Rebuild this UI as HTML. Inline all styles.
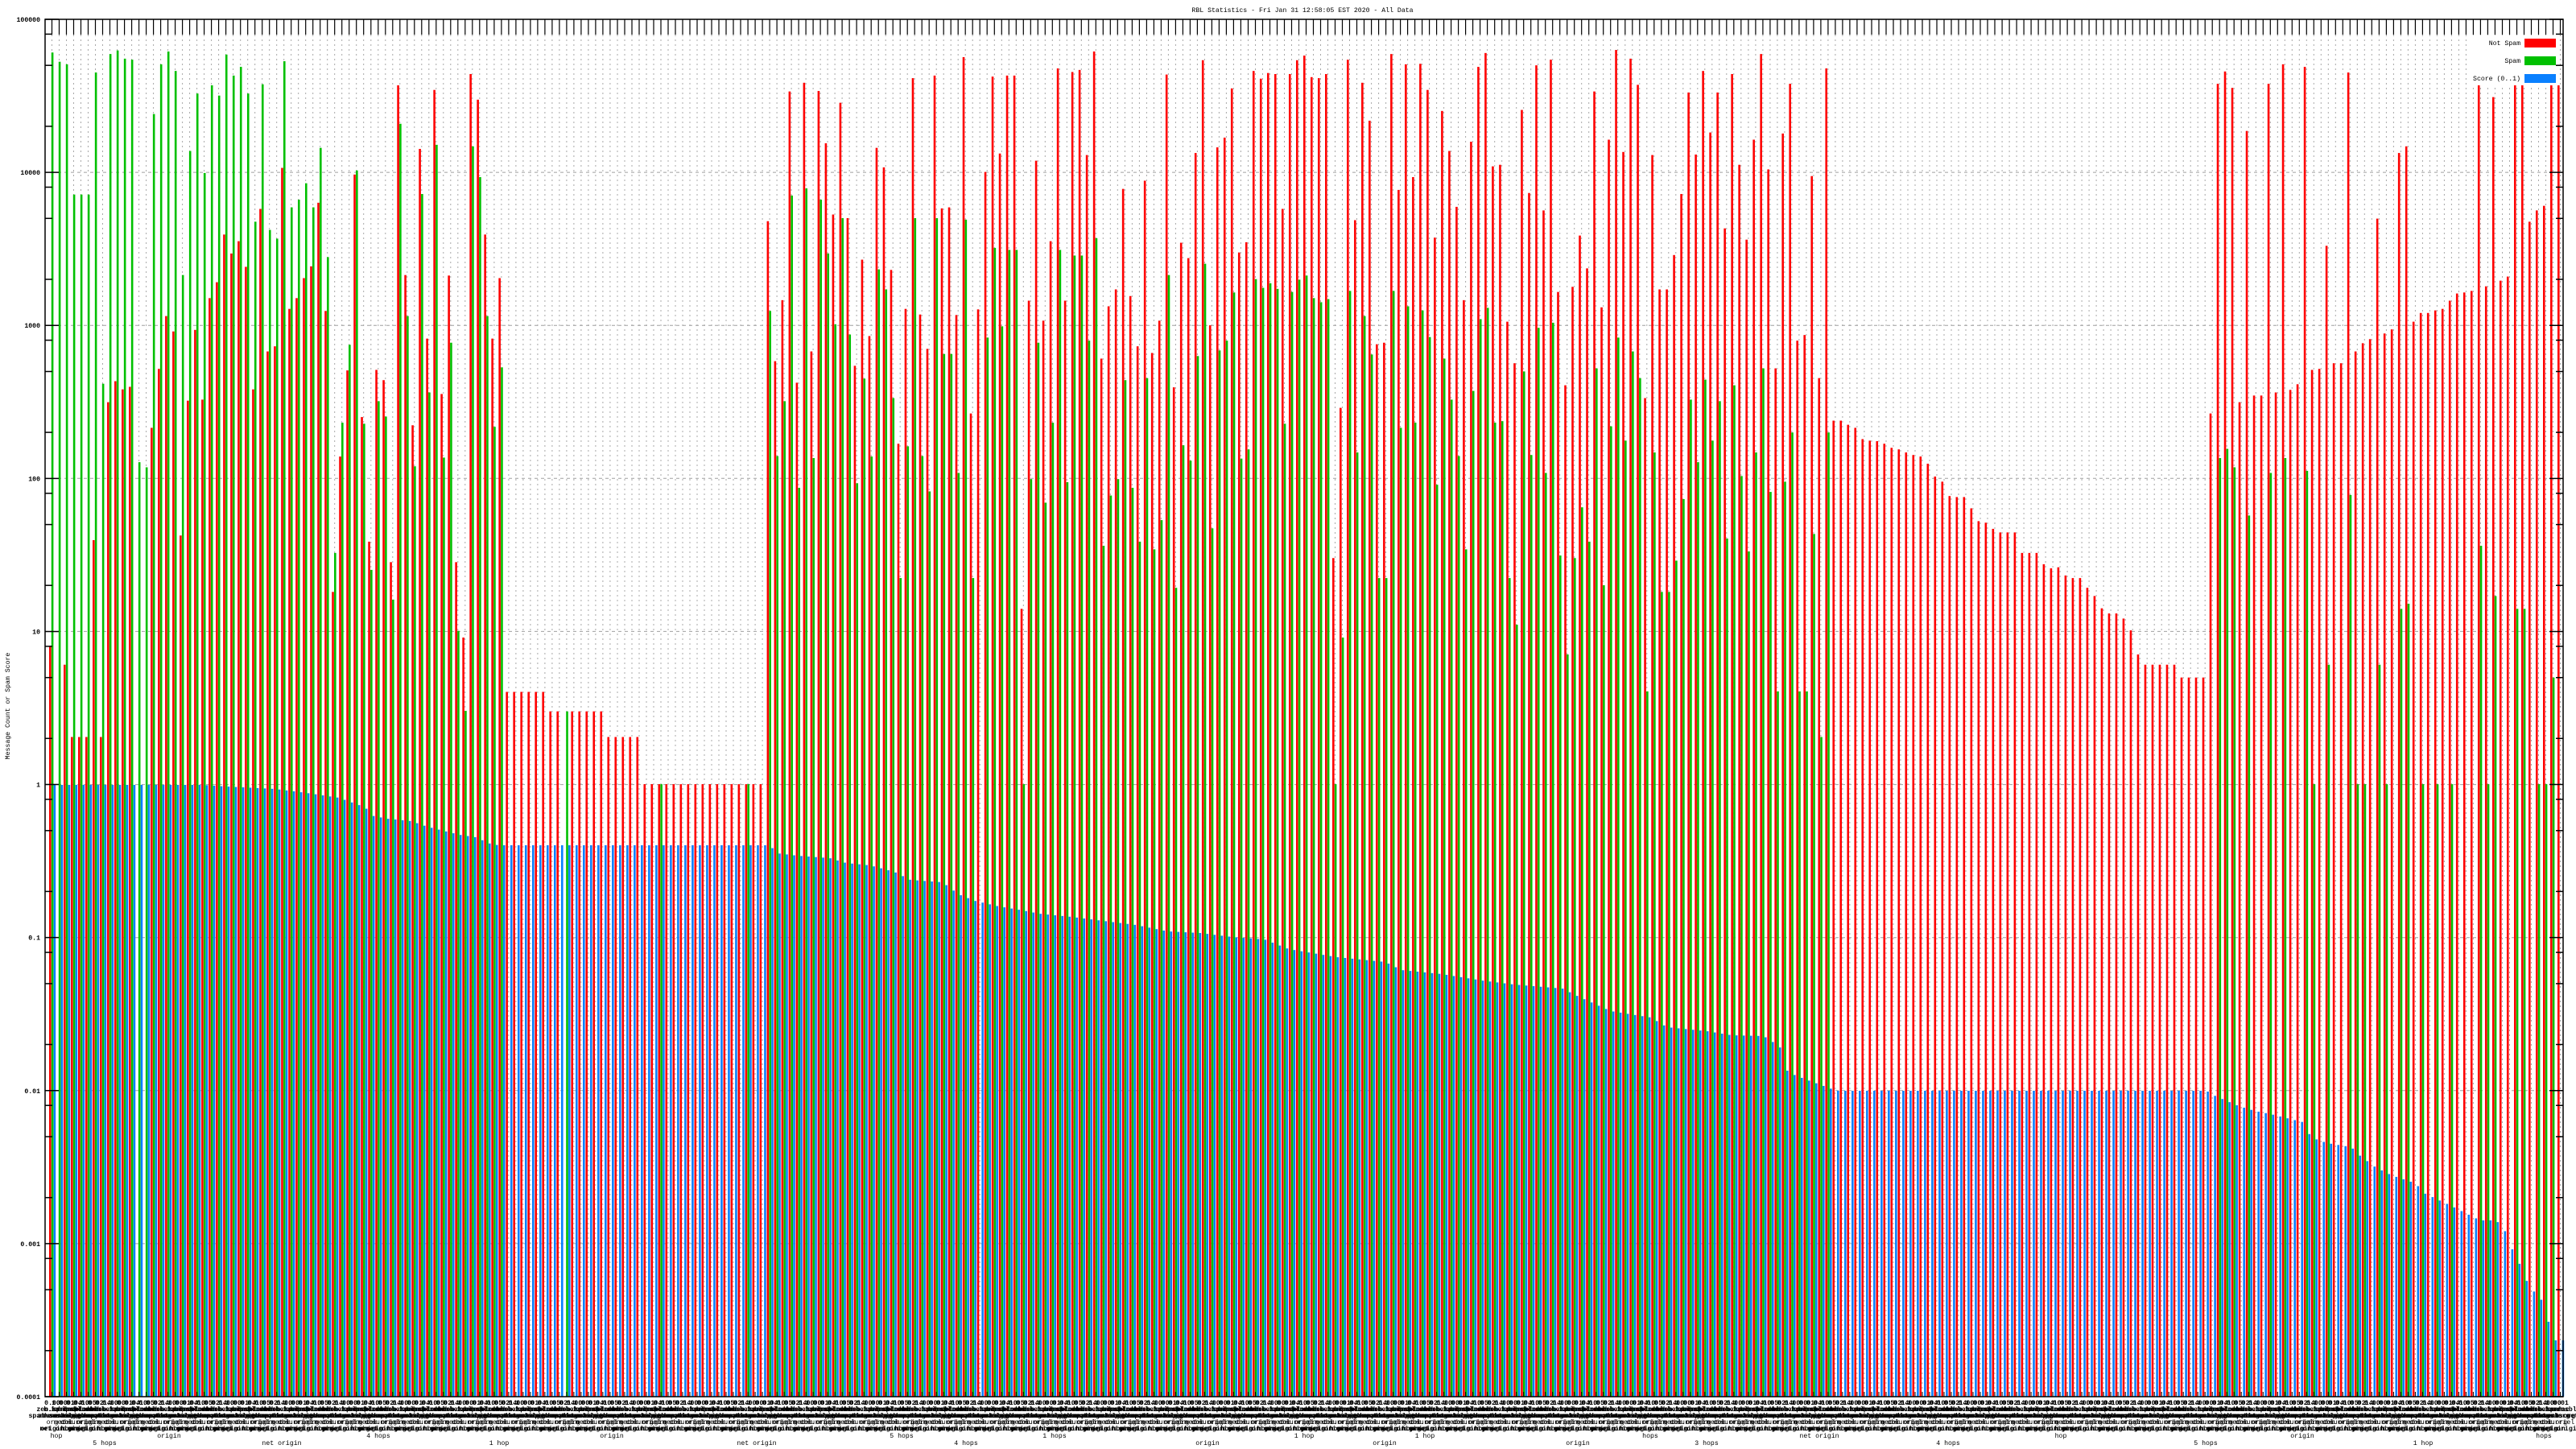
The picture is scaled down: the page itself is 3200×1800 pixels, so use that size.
<!DOCTYPE html>
<html><head><meta charset="utf-8">
<style>
html,body{margin:0;padding:0;background:#fff;}
svg{display:block;}
text{font-family:"Liberation Mono","DejaVu Sans Mono",monospace;font-size:8.2px;fill:#000;}
</style></head>
<body>
<svg id="c" xmlns="http://www.w3.org/2000/svg" width="3200" height="1800" viewBox="0 0 3200 1800"></svg>
<script>
(function(){
var S=document.getElementById('c');var NS='http://www.w3.org/2000/svg';
var out=[];
function r(x,y,w,h,f){out.push('<rect x="'+x.toFixed(2)+'" y="'+y.toFixed(2)+'" width="'+w+'" height="'+h.toFixed(2)+'" fill="'+f+'"/>');}
function ln(x1,y1,x2,y2,st,extra){out.push('<line x1="'+x1+'" y1="'+y1+'" x2="'+x2+'" y2="'+y2+'" stroke="'+st+'" '+(extra||'')+'/>');}
function tx(x,y,s,anchor,extra){out.push('<text x="'+x+'" y="'+y+'" text-anchor="'+(anchor||'start')+'" '+(extra||'')+'>'+s+'</text>');}
var L=56,R=3184,T=24,B=1735,DEC=(B-T)/9;
function yv(lg){return T+(5-lg)*DEC;}
var n=null;
var R4=[1228,n,1265,1406,1406,1406,1022,1406,753,712,728,723,n,n,803,688,585,615,1013,750,612,748,550,519,426,463,439,489,728,376,654,644,296,571,550,511,488,364,575,1123,859,691,309,782,1025,690,710,1065,135,505,798,259,629,144,737,506,1065,1212,113,163,426,629,511];
for(var i=0;i<6;i++)R4.push(1318);R4.push(1356,1356,n);for(i=0;i<5;i++)R4.push(1356);for(i=0;i<5;i++)R4.push(1406);for(i=0;i<17;i++)R4.push(1498);
var G4=[71,89,94,348,348,348,110,717,74,67,83,85,870,880,191,94,69,107,505,263,151,306,135,155,75,116,99,151,401,133,417,434,88,373,358,326,373,257,470,1047,793,641,301,795,1080,751,781,1138,210,585,878,347,734,251,861,637,1199,1355,254,314,585,801,685];
while(G4.length<99)G4.push(n);G4[71]=1356;G4[84]=1498;G4[96]=1498;
var R5=[400,673,554,147,715,130,654,146,248,387,169,394,682,475,624,257,295,495,834,571,121,582,649,116,375,373,583,80,775,572,304,118,268,116,116,1156,555,282,594,439,102,555,109,105,271,69,668,566,533,337,546,644,321,657,594,114,724,442,472,267,86,603,256,237,141,461,441,107,122,111,113,376,113,86,77,119,121,113,1057,764,85,398,130,204,640,637,74,339,94,314,93,144,432,185,263,372,554,245,99];
var G5=[575,858,751,350,920,336,862,358,463,601,394,621,911,707,859,494,533,745,1096,839,394,858,927,394,659,659,891,397,1096,n,627,452,605,456,456,1498,903,637,949,793,456,909,467,467,633,433,1033,935,903,710,920,1025,706,1040,983,505,1115,837,867,663,483,999,652,633,539,863,845,513,530,521,532,795,538,514,506,550,558,552,1498,1212,536,851,585,660,1096,1096,536,803,566,793,574,626,914,668,748,858,1040,731,591];
var R6=[72,293,290,596,677,183,345,96,379,85,538,720,528,428,492,147,568,241,66,265,83,134,745,271,533,533,466,347,149,270,107,227,149,414,113,290,436,241,74,299,687,229,132,633,622,312,706,102,789,789,797,803,825,828,829,834,842,845,851,856,859,873,898,908,936,938,938,960,985,988,1000,1007,1007,1007,1047,1047,1047,1069,1077,1075,1091,1096,1096,1115,1131,1155,1165,1165,1175,1198,1245,1265,1265,1265,1265,1265,1290,1290,1290,1290];
var G6=[569,793,790,1096,1187,693,856,608,891,598,1052,1245,1057,958,1025,687,1110,800,627,828,654,706,1317,851,1123,1123,1062,942,748,870,709,828,751,1019,720,897,1044,851,687,928,1317,908,812,1317,1317,1010,1406,812];
while(G6.length<100)G6.push(n);
var R7=[775,132,108,140,753,224,740,740,132,734,94,729,718,99,690,688,448,677,677,110,654,638,630,395,619,611,267,254,596,579,579,574,571,555,541,539,536,63,527,158,516,508,127,96,401,379,370,96,96];
var G7=[n,862,844,880,n,974,n,n,891,n,862,n,n,887,1498,n,1265,n,n,934,1498,1498,n,1265,1498,n,1156,1146,n,1498,n,1498,n,1498,n,n,n,1033,1498,1131,n,n,1156,1156,n,1498,1498,1290,n];
var RA=R4.concat(R5,R6,R7),GA=G4.concat(G5,G6,G7);
var NG=347,SP=(3177-61)/346;
var BP=[[50,975],[250,975],[280,977],[320,979],[340,980],[380,985],[420,991],[445,1000],[455,1005],[460,1013],[480,1017],[510,1020],[530,1027],[550,1032],[570,1037],[590,1040],[610,1049],[620,1050],[955,1050],[965,1060],[990,1063],[1030,1066],[1050,1072],[1080,1075],[1110,1083],[1130,1093],[1170,1096],[1190,1111],[1210,1119],[1240,1126],[1270,1131],[1290,1135],[1330,1139],[1370,1144],[1410,1149],[1430,1153],[1450,1157],[1490,1159],[1530,1164],[1570,1167],[1600,1179],[1660,1189],[1720,1195],[1740,1205],[1790,1210],[1840,1218],[1880,1223],[1940,1228],[1960,1238],[2000,1256],[2050,1264],[2070,1276],[2120,1281],[2150,1286],[2190,1287],[2210,1300],[2220,1332],[2240,1340],[2270,1351],[2280,1355],[2740,1355],[2750,1361],[2780,1374],[2800,1380],[2820,1384],[2860,1394],[2870,1413],[2890,1420],[2920,1425],[2930,1435],[2950,1450],[2970,1460],[3000,1470],[3010,1482],[3040,1496],[3060,1506],[3080,1516],[3100,1516],[3110,1527],[3120,1552],[3130,1572],[3140,1596],[3150,1608],[3160,1619],[3170,1665],[3190,1665]];
function blue(x){for(var k=0;k<BP.length-1;k++){if(x>=BP[k][0]&&x<=BP[k+1][0]){var t=(x-BP[k][0])/(BP[k+1][0]-BP[k][0]);return BP[k][1]+t*(BP[k+1][1]-BP[k][1]);}}return x<BP[0][0]?975:1665;}
// background
r(0,0,3200,1800,'#fff');
// grid horizontal
for(var d=1;d<9;d++){var y=T+d*DEC;ln(L,y.toFixed(1),R,y.toFixed(1),'#a0a0a0','stroke-width="1" stroke-dasharray="4,4"');}
// grid vertical
for(var g=0;g<NG;g++){var xc=(61+g*SP+3.5).toFixed(1);ln(xc,43,xc,B,'#a8a8a8','stroke-width="1" stroke-dasharray="2,4"');}
// bars
function zy(v){return 20+v/1.57;}
for(g=0;g<NG;g++){var x0=61+g*SP;
 if(RA[g]!=null){var y1=zy(RA[g]);r(x0,y1,2.6,B-y1,'#ff0000');}
 if(GA[g]!=null){var y2=zy(GA[g]);r(x0+2.8,y2,2.6,B-y2,'#00c000');}
 var yb=blue(x0+6);r(x0+5.6,yb,2.6,B-yb,'#0a80ff');
}
// legend box
r(3066,44,114,62,'#fff');
// frame
out.push('<rect x="'+L+'" y="'+T+'" width="'+(R-L)+'" height="'+(B-T)+'" fill="none" stroke="#000" stroke-width="1.5"/>');
// top/bottom ticks
for(g=0;g<NG;g++){var xc2=(61+g*SP+3.5).toFixed(1);ln(xc2,T,xc2,43,'#000','stroke-width="1.2"');ln(xc2,B,xc2,B-6,'#000','stroke-width="1"');}
// y ticks and labels
var labs=['100000','10000','1000','100','10','1','0.1','0.01','0.001','0.0001'];
for(d=0;d<=9;d++){var yy=T+d*DEC;ln(L,yy,L+17,yy,'#000','stroke-width="1.5"');ln(R,yy,R-17,yy,'#000','stroke-width="1.5"');
 tx(50,(yy+3).toFixed(1),labs[d],'end','font-weight="bold"');
 if(d<9){[2,5,8].forEach(function(m){var ym=yy+DEC-Math.log10(m)*DEC;ln(L,ym.toFixed(1),L+9,ym.toFixed(1),'#000','stroke-width="1.5"');ln(R,ym.toFixed(1),R-9,ym.toFixed(1),'#000','stroke-width="1.5"');});}
}
// title
tx(1618,15,'RBL Statistics - Fri Jan 31 12:58:05 EST 2020 - All Data','middle');
// y-axis label
out.push('<text x="0" y="0" text-anchor="middle" transform="translate(12,877) rotate(-90)">Message Count or Spam Score</text>');
// legend
tx(3131,56,'Not Spam','end');tx(3131,78,'Spam','end');tx(3131,100,'Score (0..1)','end');
r(3136,48,39,11,'#ff0000');r(3136,70,39,11,'#00c000');r(3136,92,39,11,'#0a80ff');
// x labels (dense overlapping)
var w1=['0.00','1.00','0.01','0.04','0.10','0.05','0.02','0.14'];
var w2=['zen.spam','bl.spamc','dnsbl.sor','b.barrac','psbl.sur','dnsbl-1.u','ix.dnsbl','cbl.abuse'];
var w3=['spamhaus.org','spamcop.net','sorbs.net','uceprotect','manitu.net','abuseat.org','spameatingm','mailspike'];
var w4=['org','net','com','ubl.org','surriel','origin'];
var w5=['origin','hop','origin','net origin','org'];
for(g=0;g<NG;g++){var xc3=(61+g*SP+4).toFixed(1);
 tx(xc3,1745,w1[g%8],'middle','font-weight="bold"');
 tx(xc3,1753,w2[(g*3)%8],'middle','font-weight="bold"');
 tx(xc3,1761,w3[(g*5)%8],'middle','font-weight="bold"');
 tx(xc3,1769,w4[(g*7)%6],'middle');
 tx(xc3,1777,w5[(g*3)%5],'middle','font-weight="bold"');
}
var hp=[[10,'hop'],[70,'5 hops'],[150,'origin'],[290,'net origin'],[410,'4 hops'],[560,'1 hop'],[700,'origin'],[880,'net origin'],[1060,'5 hops'],[1140,'4 hops'],[1250,'1 hops'],[1440,'origin'],[1560,'1 hop'],[1660,'origin'],[1710,'1 hop'],[1900,'origin'],[1990,'hops'],[2060,'3 hops'],[2200,'net origin'],[2360,'4 hops'],[2500,'hop'],[2680,'5 hops'],[2800,'origin'],[2950,'1 hop'],[3100,'hops']];
hp.forEach(function(h,i){tx(h[0]+60,i%2?1795:1786,h[1],'middle');});
S.innerHTML=out.join('');
})();
</script>
</body></html>
